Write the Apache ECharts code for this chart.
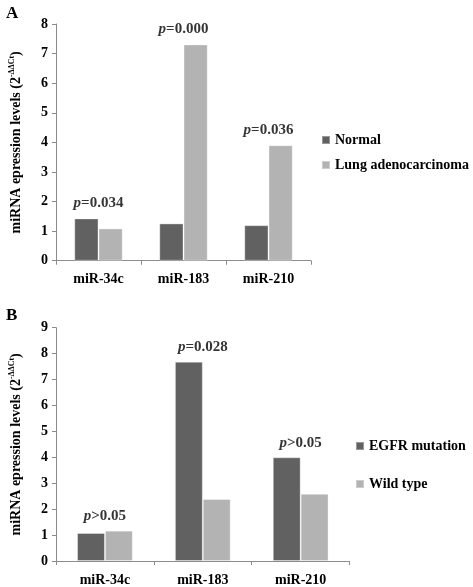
<!DOCTYPE html>
<html><head><meta charset="utf-8">
<script src="https://cdn.jsdelivr.net/npm/echarts@6/dist/echarts.min.js"></script>
<style>html,body{margin:0;padding:0;background:#fff}#c{width:473px;height:587px}</style>
</head><body><div id="c"></div>
<script>
const categories = ['miR-34c', 'miR-183', 'miR-210'];
const normalA = [1.43, 1.26, 1.20];
const lungA = [1.09, 7.31, 3.90];
const pLabelsA = ['0.034', '0.000', '0.036'];
const pOpsA = ['=', '=', '='];
const pHeightA = [1.43, 7.31, 3.90];
const egfrB = [1.08, 7.69, 4.00];
const wildB = [1.17, 2.39, 2.59];
const pLabelsB = ['0.05', '0.028', '0.05'];
const pOpsB = ['>', '=', '>'];
const pHeightB = [1.17, 7.69, 4.00];
const yTicksA = [0, 1, 2, 3, 4, 5, 6, 7, 8];
const yTicksB = [0, 1, 2, 3, 4, 5, 6, 7, 8, 9];

const FONT = '"Liberation Serif", "Times New Roman", serif';
const DARK = '#616161', LIGHT = '#b3b3b3', AXIS = '#8c8c8c';

const chart = echarts.init(document.getElementById('c'), null, {renderer: 'canvas'});

function yAxis(gi, ticks) {
  return {
    gridIndex: gi, type: 'value', min: ticks[0], max: ticks[ticks.length - 1], interval: 1,
    name: '{a|miRNA epression levels (2}{s|-ΔΔCt}{a|)}',
    nameLocation: 'middle', nameGap: 32, nameRotate: 90,
    nameTextStyle: {rich: {
      a: {fontFamily: FONT, fontWeight: 'bold', fontSize: 14, color: '#000', lineHeight: 16},
      s: {fontFamily: FONT, fontWeight: 'bold', fontSize: 8, color: '#000', verticalAlign: 'top', lineHeight: 16}
    }},
    axisLine: {show: true, lineStyle: {color: AXIS, width: 1}},
    axisTick: {show: true, length: 4, lineStyle: {color: AXIS}},
    splitLine: {show: false},
    axisLabel: {fontFamily: FONT, fontWeight: 'bold', fontSize: 14, color: '#000', margin: 8}
  };
}
function xAxis(gi, margin) {
  return {
    gridIndex: gi, type: 'category', data: categories,
    axisLine: {show: true, lineStyle: {color: AXIS, width: 1}},
    axisTick: {show: true, length: 4, alignWithLabel: false, lineStyle: {color: AXIS}},
    axisLabel: {fontFamily: FONT, fontWeight: 'bold', fontSize: 14, color: '#000', margin: margin}
  };
}
function bar(name, data, color, gi) {
  return {
    name: name, type: 'bar', xAxisIndex: gi, yAxisIndex: gi, data: data,
    barGap: '0%', barCategoryGap: '43%',
    itemStyle: {color: color, borderColor: 'rgba(255,255,255,0.35)', borderWidth: 1},
    emphasis: {disabled: true}
  };
}
function pSeries(gi, heights, ops, labels, offset) {
  return {
    type: 'scatter', xAxisIndex: gi, yAxisIndex: gi, symbolSize: 0, silent: true,
    data: categories.map((c, i) => ({value: [c, heights[i]], op: ops[i], lab: labels[i]})),
    label: {
      show: true, position: 'top', distance: offset,
      formatter: p => '{i|p}{b|' + p.data.op + p.data.lab + '}',
      rich: {
        i: {fontFamily: FONT, fontStyle: 'italic', fontWeight: 'bold', fontSize: 15, color: '#000'},
        b: {fontFamily: FONT, fontWeight: 'bold', fontSize: 15, color: '#000'}
      }
    },
    z: 5
  };
}

chart.setOption({
  animation: false,
  backgroundColor: '#fff',
  title: [
    {text: 'A', left: 1, top: 0, textStyle: {fontFamily: FONT, fontWeight: 'bold', fontSize: 17, color: '#000'}},
    {text: 'B', left: 1, top: 302, textStyle: {fontFamily: FONT, fontWeight: 'bold', fontSize: 17, color: '#000'}}
  ],
  grid: [
    {left: 47, top: 24, width: 264, height: 236.7},
    {left: 47, top: 327.7, width: 302.6, height: 237.6}
  ],
  legend: [
    {data: ['Normal', 'Lung adenocarcinoma'], orient: 'vertical', left: 316, top: 128, itemWidth: 8, itemHeight: 8, itemGap: 11,
     icon: 'rect', selectedMode: false, textStyle: {fontFamily: FONT, fontWeight: 'bold', fontSize: 14, color: '#000'}},
    {data: ['EGFR mutation', 'Wild type'], orient: 'vertical', left: 350, top: 434, itemWidth: 8, itemHeight: 8, itemGap: 24,
     icon: 'rect', selectedMode: false, textStyle: {fontFamily: FONT, fontWeight: 'bold', fontSize: 14, color: '#000'}}
  ],
  xAxis: [xAxis(0, 12), xAxis(1, 12)],
  yAxis: [yAxis(0, yTicksA), yAxis(1, yTicksB)],
  series: [
    bar('Normal', normalA, DARK, 0),
    bar('Lung adenocarcinoma', lungA, LIGHT, 0),
    bar('EGFR mutation', egfrB, DARK, 1),
    bar('Wild type', wildB, LIGHT, 1),
    pSeries(0, pHeightA, pOpsA, pLabelsA, 8),
    pSeries(1, pHeightB, pOpsB, pLabelsB, 7)
  ]
});
</script></body></html>
